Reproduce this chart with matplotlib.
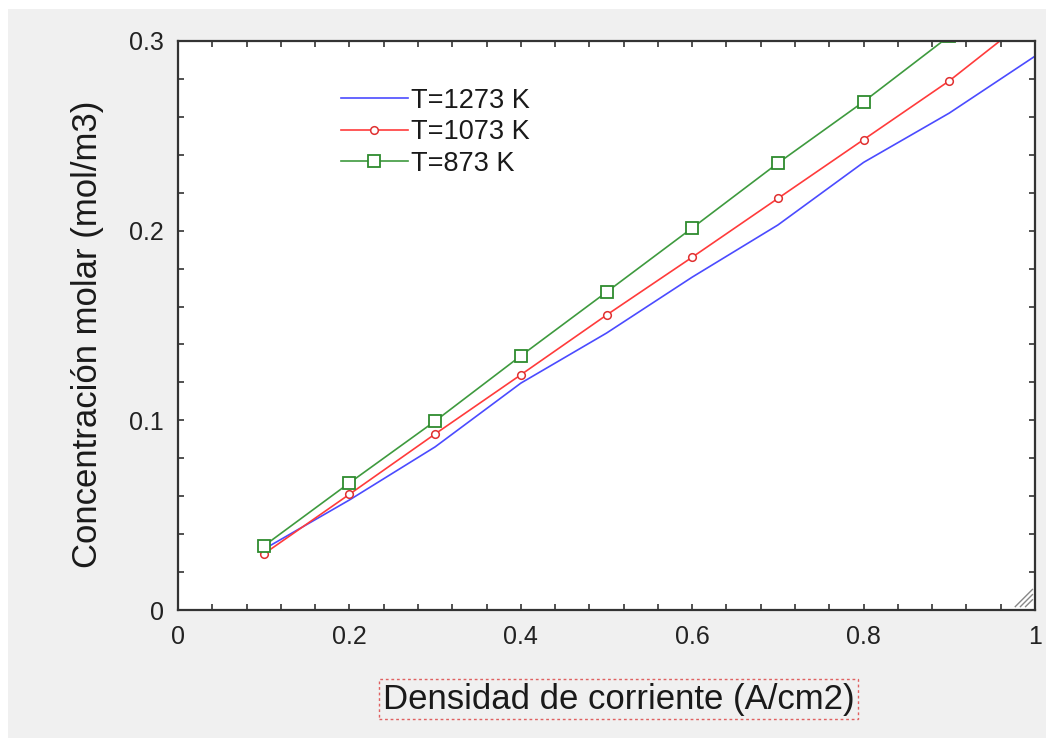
import matplotlib
matplotlib.use("Agg")
import matplotlib.pyplot as plt
from matplotlib.ticker import MultipleLocator
from matplotlib.patches import Rectangle

x = [0.1, 0.2, 0.3, 0.4, 0.5, 0.6, 0.7, 0.8, 0.9, 1.0]
y_1273 = [0.032, 0.058, 0.086, 0.1196, 0.146, 0.1755, 0.203, 0.236, 0.262, 0.292]
y_1073 = [0.0295, 0.061, 0.0928, 0.124, 0.1555, 0.186, 0.217, 0.248, 0.279, 0.3146]
x_873 = [0.1, 0.2, 0.3, 0.4, 0.5, 0.6, 0.7, 0.8, 0.9]
y_873 = [0.0337, 0.067, 0.0996, 0.134, 0.1676, 0.2014, 0.2356, 0.268, 0.3026]
labels = ["T=1273 K", "T=1073 K", "T=873 K"]
xticks = [0, 0.2, 0.4, 0.6, 0.8, 1]
xticklabels = ["0", "0.2", "0.4", "0.6", "0.8", "1"]
yticks = [0, 0.1, 0.2, 0.3]
yticklabels = ["0", "0.1", "0.2", "0.3"]

plt.rcParams['font.family'] = ['Liberation Sans', 'DejaVu Sans']

fig = plt.figure(figsize=(10.46, 7.38), dpi=100, facecolor='white')
fig.patches.append(Rectangle((8/1046, 0), 1 - 8/1046, 1 - 9/738, transform=fig.transFigure,
                             facecolor='#f0f0f0', edgecolor='none', zorder=-10))
ax = fig.add_axes([178/1046, 128/738, 857/1046, 569/738])
ax.set_facecolor('white')

ax.plot(x, y_1273, color='#4b4bff', lw=1.2, label=labels[0])
ax.plot(x, y_1073, color='#ff3b3b', lw=1.2, marker='o', ms=5.5, mfc='white', mec='#e03030',
        mew=1.1, label=labels[1])
ax.plot(x_873, y_873, color='#3e9a3e', lw=1.2, marker='s', ms=8.5, mfc='white', mec='#2e8b2e',
        mew=1.3, label=labels[2])

ax.set_xlim(0, 1)
ax.set_ylim(0, 0.3)
ax.set_xticks(xticks)
ax.set_xticklabels(xticklabels)
ax.set_yticks(yticks)
ax.set_yticklabels(yticklabels)
ax.xaxis.set_minor_locator(MultipleLocator(0.04))
ax.yaxis.set_minor_locator(MultipleLocator(0.02))
ax.tick_params(which='both', direction='in', top=True, right=True, length=4, width=1.2,
               color='#333333', labelsize=18, labelcolor='#222222')
ax.tick_params(axis='x', pad=11)
ax.tick_params(axis='y', pad=10)
for s in ax.spines.values():
    s.set_color('#333333')
    s.set_linewidth(1.6)

ax.set_xlabel("Densidad de corriente (A/cm2)", fontsize=25, color='#1a1a1a', labelpad=24,
              bbox=dict(boxstyle='square,pad=0.1', facecolor='none', edgecolor='#e06060',
                        linestyle=(0, (2, 2)), linewidth=1.0))
ax.set_ylabel("Concentración molar (mol/m3)", fontsize=25, color='#1a1a1a', labelpad=18)
ax.xaxis.label.set_x(0.514)
ax.yaxis.label.set_y(0.484)

leg = ax.legend(loc='upper left', bbox_to_anchor=(0.177, 0.937), frameon=False, fontsize=19.5,
                handlelength=2.5, handletextpad=0.1, labelspacing=0.2, borderaxespad=0)
for t in leg.get_texts():
    t.set_color('#1a1a1a')

# resize grip in corner
for d in [0.008, 0.014, 0.020]:
    ax.plot([1 - 0.003 - d, 1 - 0.003], [0.006, 0.006 + d * 857 / 569], transform=ax.transAxes,
            color='#888888', lw=1.0, clip_on=False)

fig.savefig("out.png", dpi=100, facecolor=fig.get_facecolor())
